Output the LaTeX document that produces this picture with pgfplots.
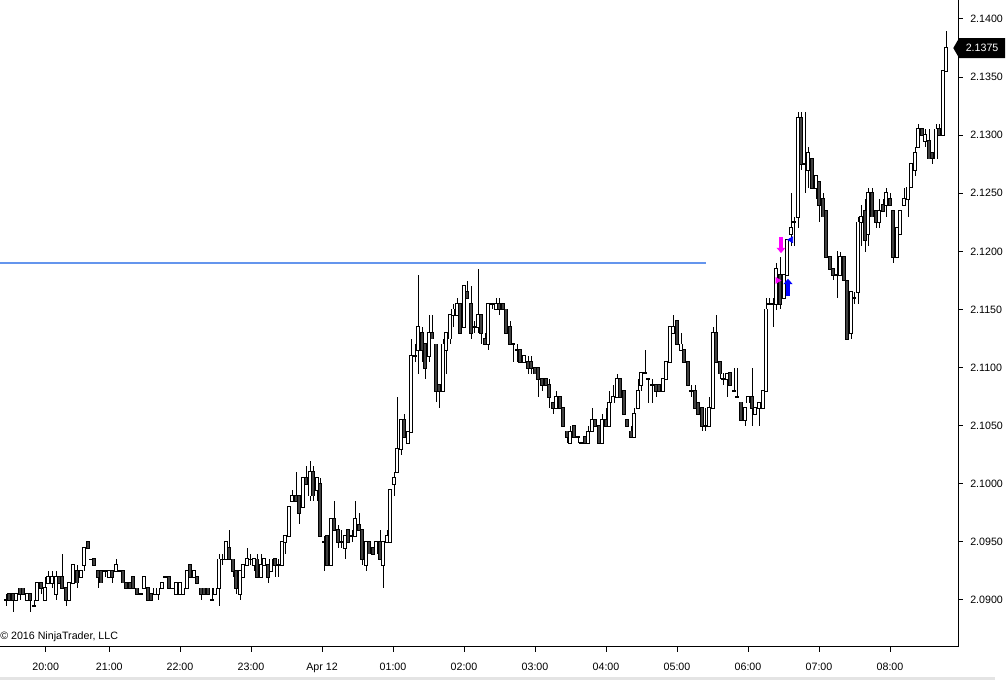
\documentclass[border=0pt]{standalone}
\usepackage{pgfplots}
\pgfplotsset{compat=1.18}
\usepackage{pgfplotstable}
\usepackage{fontspec}
\setmainfont{Liberation Sans}
\usetikzlibrary{arrows.meta,shapes.symbols}
\definecolor{downfill}{RGB}{64,64,64}
\definecolor{hline}{RGB}{100,149,237}
\definecolor{bgband}{RGB}{228,228,228}
\definecolor{sigmag}{RGB}{255,0,255}
\definecolor{sigblue}{RGB}{0,0,255}

\pgfplotstableread{
x o h l c
6 2.0900 2.0905 2.0895 2.0900
9 2.0905 2.0905 2.0900 2.0900
13 2.0905 2.0905 2.0890 2.0900
16 2.0900 2.0905 2.0900 2.0905
20 2.0910 2.0910 2.0900 2.0905
23 2.0910 2.0910 2.0905 2.0905
27 2.0900 2.0905 2.0900 2.0905
30 2.0905 2.0905 2.0890 2.0900
34 2.0895 2.0900 2.0895 2.0895
37 2.0900 2.0915 2.0900 2.0915
41 2.0915 2.0915 2.0905 2.0910
45 2.0900 2.0920 2.0900 2.0910
48 2.0915 2.0925 2.0915 2.0920
52 2.0915 2.0925 2.0910 2.0920
56 2.0905 2.0925 2.0900 2.0920
59 2.0920 2.0920 2.0915 2.0915
62 2.0920 2.0940 2.0910 2.0910
66 2.0910 2.0910 2.0895 2.0900
69 2.0900 2.0915 2.0900 2.0915
73 2.0915 2.0930 2.0915 2.0930
77 2.0925 2.0930 2.0910 2.0915
81 2.0920 2.0925 2.0920 2.0925
84 2.0930 2.0945 2.0925 2.0945
88 2.0950 2.0950 2.0945 2.0945
91 2.0935 2.0935 2.0935 2.0935
94 2.0935 2.0935 2.0930 2.0930
98 2.0925 2.0925 2.0910 2.0920
101 2.0925 2.0925 2.0915 2.0915
105 2.0925 2.0925 2.0920 2.0925
109 2.0920 2.0925 2.0920 2.0925
112 2.0925 2.0925 2.0915 2.0920
116 2.0925 2.0935 2.0925 2.0930
119 2.0925 2.0925 2.0925 2.0925
123 2.0925 2.0925 2.0915 2.0915
126 2.0915 2.0915 2.0910 2.0910
130 2.0915 2.0915 2.0910 2.0910
133 2.0920 2.0920 2.0910 2.0910
137 2.0910 2.0910 2.0905 2.0905
141 2.0905 2.0905 2.0905 2.0905
144 2.0910 2.0920 2.0910 2.0920
148 2.0910 2.0910 2.0900 2.0900
151 2.0905 2.0905 2.0900 2.0900
155 2.0905 2.0910 2.0905 2.0910
158 2.0905 2.0910 2.0900 2.0910
162 2.0910 2.0915 2.0910 2.0915
165 2.0920 2.0920 2.0920 2.0920
169 2.0920 2.0920 2.0910 2.0910
172 2.0910 2.0910 2.0910 2.0910
176 2.0905 2.0915 2.0905 2.0915
180 2.0905 2.0915 2.0905 2.0915
183 2.0905 2.0910 2.0905 2.0910
187 2.0910 2.0925 2.0910 2.0925
190 2.0930 2.0930 2.0920 2.0920
194 2.0920 2.0925 2.0920 2.0925
197 2.0920 2.0920 2.0915 2.0915
201 2.0910 2.0910 2.0900 2.0905
204 2.0910 2.0910 2.0905 2.0905
208 2.0910 2.0910 2.0905 2.0905
212 2.0900 2.0910 2.0900 2.0900
215 2.0905 2.0910 2.0905 2.0910
219 2.0910 2.0940 2.0895 2.0935
222 2.0935 2.0940 2.0930 2.0935
226 2.0935 2.0950 2.0935 2.0950
229 2.0945 2.0960 2.0935 2.0935
233 2.0935 2.0935 2.0920 2.0925
236 2.0925 2.0925 2.0905 2.0910
240 2.0905 2.0925 2.0900 2.0925
243 2.0920 2.0930 2.0920 2.0930
247 2.0930 2.0945 2.0930 2.0935
250 2.0935 2.0940 2.0930 2.0935
254 2.0930 2.0935 2.0925 2.0935
257 2.0935 2.0940 2.0920 2.0920
261 2.0920 2.0940 2.0920 2.0930
264 2.0930 2.0935 2.0930 2.0935
268 2.0930 2.0930 2.0915 2.0920
271 2.0925 2.0935 2.0925 2.0935
275 2.0935 2.0935 2.0920 2.0930
278 2.0930 2.0935 2.0920 2.0930
282 2.0930 2.0950 2.0930 2.0950
285 2.0950 2.0955 2.0940 2.0955
289 2.0955 2.0980 2.0955 2.0980
292 2.0985 2.0995 2.0985 2.0990
296 2.0990 2.1010 2.0985 2.0985
299 2.0990 2.0990 2.0965 2.0975
303 2.0980 2.1005 2.0980 2.1005
306 2.1005 2.1015 2.1000 2.1000
310 2.0990 2.1020 2.0985 2.1010
313 2.1010 2.1015 2.0985 2.0990
317 2.0995 2.1005 2.0985 2.1005
320 2.1000 2.1005 2.0955 2.0955
324 2.0950 2.0955 2.0925 2.0950
327 2.0955 2.0955 2.0930 2.0930
331 2.0930 2.0970 2.0930 2.0970
334 2.0970 2.0985 2.0960 2.0960
338 2.0960 2.0965 2.0945 2.0950
341 2.0950 2.0960 2.0945 2.0950
345 2.0945 2.0955 2.0935 2.0955
348 2.0960 2.0960 2.0950 2.0950
352 2.0955 2.0960 2.0950 2.0955
355 2.0955 2.0985 2.0955 2.0970
359 2.0965 2.0975 2.0960 2.0960
362 2.0960 2.0960 2.0930 2.0935
366 2.0930 2.0950 2.0925 2.0950
369 2.0950 2.0950 2.0940 2.0940
373 2.0945 2.0945 2.0940 2.0940
376 2.0940 2.0950 2.0940 2.0950
380 2.0950 2.0960 2.0935 2.0935
383 2.0930 2.0950 2.0910 2.0950
387 2.0950 2.0960 2.0950 2.0955
390 2.0950 2.0995 2.0950 2.0995
394 2.1000 2.1010 2.0990 2.1005
397 2.1010 2.1075 2.1010 2.1030
401 2.1030 2.1055 2.1025 2.1055
404 2.1055 2.1060 2.1040 2.1040
408 2.1035 2.1045 2.1035 2.1045
411 2.1045 2.1125 2.1045 2.1110
415 2.1110 2.1120 2.1105 2.1110
418 2.1115 2.1180 2.1095 2.1135
422 2.1130 2.1135 2.1105 2.1115
425 2.1120 2.1120 2.1090 2.1100
429 2.1110 2.1145 2.1105 2.1130
432 2.1130 2.1145 2.1125 2.1125
436 2.1120 2.1120 2.1070 2.1080
439 2.1085 2.1085 2.1065 2.1080
443 2.1080 2.1125 2.1080 2.1120
446 2.1115 2.1130 2.1095 2.1130
450 2.1125 2.1145 2.1120 2.1145
453 2.1145 2.1155 2.1135 2.1150
457 2.1145 2.1160 2.1145 2.1155
460 2.1155 2.1155 2.1130 2.1130
464 2.1135 2.1170 2.1135 2.1170
467 2.1165 2.1175 2.1160 2.1160
471 2.1155 2.1170 2.1125 2.1130
474 2.1135 2.1140 2.1130 2.1135
478 2.1135 2.1185 2.1130 2.1145
481 2.1145 2.1145 2.1120 2.1130
485 2.1125 2.1130 2.1120 2.1120
488 2.1120 2.1155 2.1115 2.1155
492 2.1155 2.1155 2.1150 2.1155
496 2.1150 2.1160 2.1150 2.1155
499 2.1155 2.1160 2.1145 2.1150
503 2.1155 2.1155 2.1150 2.1150
506 2.1150 2.1150 2.1130 2.1130
510 2.1135 2.1140 2.1120 2.1120
513 2.1120 2.1120 2.1105 2.1120
517 2.1115 2.1120 2.1105 2.1115
520 2.1115 2.1115 2.1105 2.1105
524 2.1105 2.1110 2.1105 2.1110
528 2.1105 2.1110 2.1095 2.1100
531 2.1105 2.1110 2.1095 2.1100
535 2.1100 2.1100 2.1095 2.1095
538 2.1100 2.1100 2.1075 2.1090
542 2.1090 2.1090 2.1080 2.1085
546 2.1090 2.1090 2.1085 2.1085
549 2.1085 2.1090 2.1065 2.1075
553 2.1070 2.1070 2.1060 2.1065
556 2.1065 2.1080 2.1065 2.1075
560 2.1075 2.1075 2.1065 2.1065
563 2.1065 2.1065 2.1050 2.1050
567 2.1045 2.1045 2.1035 2.1040
570 2.1035 2.1050 2.1035 2.1045
574 2.1050 2.1050 2.1040 2.1040
578 2.1040 2.1040 2.1035 2.1040
581 2.1035 2.1035 2.1035 2.1035
585 2.1040 2.1040 2.1035 2.1035
588 2.1035 2.1050 2.1035 2.1045
592 2.1045 2.1065 2.1045 2.1055
595 2.1055 2.1055 2.1050 2.1050
599 2.1050 2.1050 2.1035 2.1035
602 2.1035 2.1060 2.1035 2.1055
606 2.1055 2.1065 2.1050 2.1050
609 2.1050 2.1080 2.1050 2.1070
613 2.1070 2.1085 2.1070 2.1075
617 2.1075 2.1095 2.1075 2.1090
620 2.1090 2.1090 2.1075 2.1075
624 2.1080 2.1080 2.1060 2.1060
627 2.1055 2.1055 2.1050 2.1050
631 2.1045 2.1050 2.1040 2.1040
634 2.1040 2.1065 2.1040 2.1060
638 2.1065 2.1090 2.1065 2.1080
641 2.1085 2.1095 2.1080 2.1095
645 2.1095 2.1115 2.1095 2.1095
648 2.1090 2.1090 2.1070 2.1090
652 2.1085 2.1090 2.1070 2.1085
656 2.1085 2.1085 2.1075 2.1080
659 2.1085 2.1085 2.1080 2.1080
663 2.1080 2.1090 2.1080 2.1090
666 2.1090 2.1105 2.1090 2.1105
670 2.1105 2.1135 2.1105 2.1135
673 2.1130 2.1145 2.1130 2.1135
677 2.1140 2.1140 2.1120 2.1120
681 2.1115 2.1130 2.1115 2.1120
684 2.1115 2.1115 2.1105 2.1105
688 2.1105 2.1105 2.1085 2.1085
691 2.1080 2.1085 2.1075 2.1080
695 2.1080 2.1085 2.1065 2.1065
698 2.1070 2.1070 2.1060 2.1060
702 2.1065 2.1065 2.1045 2.1050
705 2.1050 2.1065 2.1045 2.1050
709 2.1050 2.1075 2.1050 2.1065
713 2.1065 2.1135 2.1065 2.1130
716 2.1130 2.1145 2.1105 2.1105
720 2.1105 2.1105 2.1090 2.1095
723 2.1090 2.1095 2.1085 2.1090
727 2.1090 2.1095 2.1075 2.1095
730 2.1095 2.1095 2.1085 2.1085
734 2.1080 2.1100 2.1080 2.1080
737 2.1075 2.1100 2.1075 2.1075
741 2.1070 2.1070 2.1055 2.1055
745 2.1055 2.1065 2.1050 2.1065
748 2.1070 2.1075 2.1070 2.1075
752 2.1075 2.1100 2.1050 2.1065
755 2.1060 2.1065 2.1060 2.1065
759 2.1065 2.1070 2.1050 2.1070
763 2.1065 2.1080 2.1065 2.1080
766 2.1080 2.1160 2.1080 2.1150
769 2.1155 2.1160 2.1155 2.1155
773 2.1155 2.1160 2.1135 2.1155
776 2.1155 2.1190 2.1150 2.1185
780 2.1180 2.1195 2.1150 2.1155
784 2.1160 2.1180 2.1160 2.1180
787 2.1180 2.1210 2.1180 2.1210
791 2.1215 2.1250 2.1205 2.1220
794 2.1225 2.1230 2.1205 2.1225
798 2.1230 2.1320 2.1220 2.1315
801 2.1315 2.1320 2.1270 2.1275
805 2.1275 2.1320 2.1250 2.1275
808 2.1270 2.1290 2.1255 2.1285
812 2.1280 2.1280 2.1255 2.1255
816 2.1255 2.1265 2.1245 2.1265
819 2.1260 2.1260 2.1225 2.1240
823 2.1245 2.1250 2.1230 2.1230
826 2.1235 2.1235 2.1195 2.1195
830 2.1195 2.1195 2.1185 2.1185
833 2.1185 2.1185 2.1175 2.1180
837 2.1180 2.1200 2.1160 2.1180
840 2.1180 2.1200 2.1180 2.1195
844 2.1195 2.1195 2.1175 2.1175
847 2.1175 2.1175 2.1125 2.1125
851 2.1130 2.1165 2.1125 2.1165
854 2.1160 2.1165 2.1155 2.1160
858 2.1165 2.1230 2.1155 2.1225
861 2.1225 2.1240 2.1205 2.1230
865 2.1235 2.1245 2.1200 2.1210
868 2.1215 2.1255 2.1205 2.1250
872 2.1250 2.1255 2.1230 2.1230
876 2.1235 2.1235 2.1220 2.1225
879 2.1225 2.1245 2.1220 2.1235
883 2.1240 2.1245 2.1235 2.1235
886 2.1240 2.1255 2.1230 2.1250
890 2.1245 2.1250 2.1240 2.1240
893 2.1235 2.1235 2.1190 2.1195
897 2.1195 2.1220 2.1195 2.1220
900 2.1215 2.1235 2.1215 2.1235
904 2.1240 2.1255 2.1240 2.1245
908 2.1245 2.1255 2.1230 2.1255
911 2.1255 2.1275 2.1255 2.1275
915 2.1270 2.1290 2.1265 2.1285
918 2.1290 2.1310 2.1290 2.1305
922 2.1305 2.1305 2.1300 2.1300
925 2.1295 2.1305 2.1290 2.1300
929 2.1295 2.1305 2.1280 2.1280
932 2.1285 2.1285 2.1275 2.1280
936 2.1280 2.1310 2.1280 2.1305
939 2.1305 2.1310 2.1300 2.1300
943 2.1300 2.1355 2.1300 2.1355
946 2.1355 2.1390 2.1355 2.1375
}\candles

\begin{document}
\begin{tikzpicture}
\useasboundingbox (0,-24.75pt) rectangle (756pt,485.25pt);
\fill[bgband] (0,-24.75pt) rectangle (746pt,-22.5pt);
\begin{axis}[
  at={(0,0)}, anchor=south west,
  scale only axis, width=718.5pt, height=485.25pt,
  xmin=0, xmax=958, ymin=2.085955, ymax=2.141635,
  clip=false,
  axis x line*=bottom, axis y line*=right,
  axis line style={line width=0.75pt, black},
  tick align=outside, major tick length=3.5pt,
  tick style={line width=0.75pt, black},
  xtick={45.7,109.3,180,251,322,393,464,535,606,677,748,819,890},
  xticklabels={20:00,21:00,22:00,23:00,Apr 12,01:00,02:00,03:00,04:00,05:00,06:00,07:00,08:00},
  ytick={2.090,2.095,2.100,2.105,2.110,2.115,2.120,2.125,2.130,2.135,2.140},
  yticklabel pos=right,
  ticklabel style={font=\fontsize{8}{9.6}\selectfont},
  xticklabel style={anchor=base, inner sep=0pt, yshift=-14.5pt},
  yticklabel style={anchor=west, inner sep=0pt, xshift=5.5pt},
  /pgf/number format/.cd, fixed, fixed zerofill, precision=4, 1000 sep={}, assume math mode=true,
]
% resistance line
\addplot[hline, line width=1.5pt, mark=none] coordinates {(0,2.1190) (706,2.1190)};
% wicks
\addplot[draw=none, mark=none, error bars/.cd, y dir=both, y explicit, error mark=none,
  error bar style={line width=0.75pt, draw=black}]
  table[x=x, y expr={(\thisrow{h}+\thisrow{l})/2}, y error expr={(\thisrow{h}-\thisrow{l})/2}] {\candles};
% body outline
\addplot[draw=none, mark=none, error bars/.cd, y dir=both, y explicit, error mark=none,
  error bar style={line width=2.5pt, draw=black}]
  table[x=x, y expr={(\thisrow{o}+\thisrow{c})/2}, y error expr={abs(\thisrow{c}-\thisrow{o})/2+0.00008}] {\candles};
% body white fill
\addplot[draw=none, mark=none, error bars/.cd, y dir=both, y explicit, error mark=none,
  error bar style={line width=1.0pt, draw=white}]
  table[x=x, y expr={(\thisrow{o}+\thisrow{c})/2}, y error expr={abs(\thisrow{c}-\thisrow{o})/2}] {\candles};
% body dark fill for down candles
\addplot[draw=none, mark=none, error bars/.cd, y dir=both, y explicit, error mark=none,
  error bar style={line width=1.0pt, draw=downfill}]
  table[x=x, y expr={(\thisrow{o}+\thisrow{c})/2}, y error expr={max(\thisrow{o}-\thisrow{c},0)/2}] {\candles};
% signal arrows
\addplot[sigmag, line width=2.4pt, mark=none, -{Triangle[width=6.5pt,length=4pt]}] coordinates {(781,2.12125) (781,2.11985)};
\addplot[sigblue, line width=2.4pt, mark=none, -{Triangle[width=6.5pt,length=4pt]}] coordinates {(788,2.11615) (788,2.11765)};
\addplot[only marks, sigmag, mark=triangle*, mark size=2.6pt, mark options={rotate=-90, draw=sigmag, fill=sigmag}] coordinates {(777.5,2.1175)};
\addplot[only marks, sigblue, mark=triangle*, mark size=2.6pt, mark options={rotate=90, draw=sigblue, fill=sigblue}] coordinates {(791,2.1210)};
% last price marker
\node[signal, signal to=west, signal pointer angle=120, fill=black, text=white,
  font=\fontsize{8}{9.6}\selectfont, inner xsep=5pt, inner ysep=0pt, minimum height=15pt,
  anchor=west] at (axis cs:953,2.1375) {2.1375};
% copyright
\node[anchor=base west, inner sep=0pt, font=\fontsize{8}{9.6}\selectfont] at (axis cs:0,2.085955) [yshift=5.6pt] {© 2016 NinjaTrader, LLC};
\end{axis}
\end{tikzpicture}
\end{document}
